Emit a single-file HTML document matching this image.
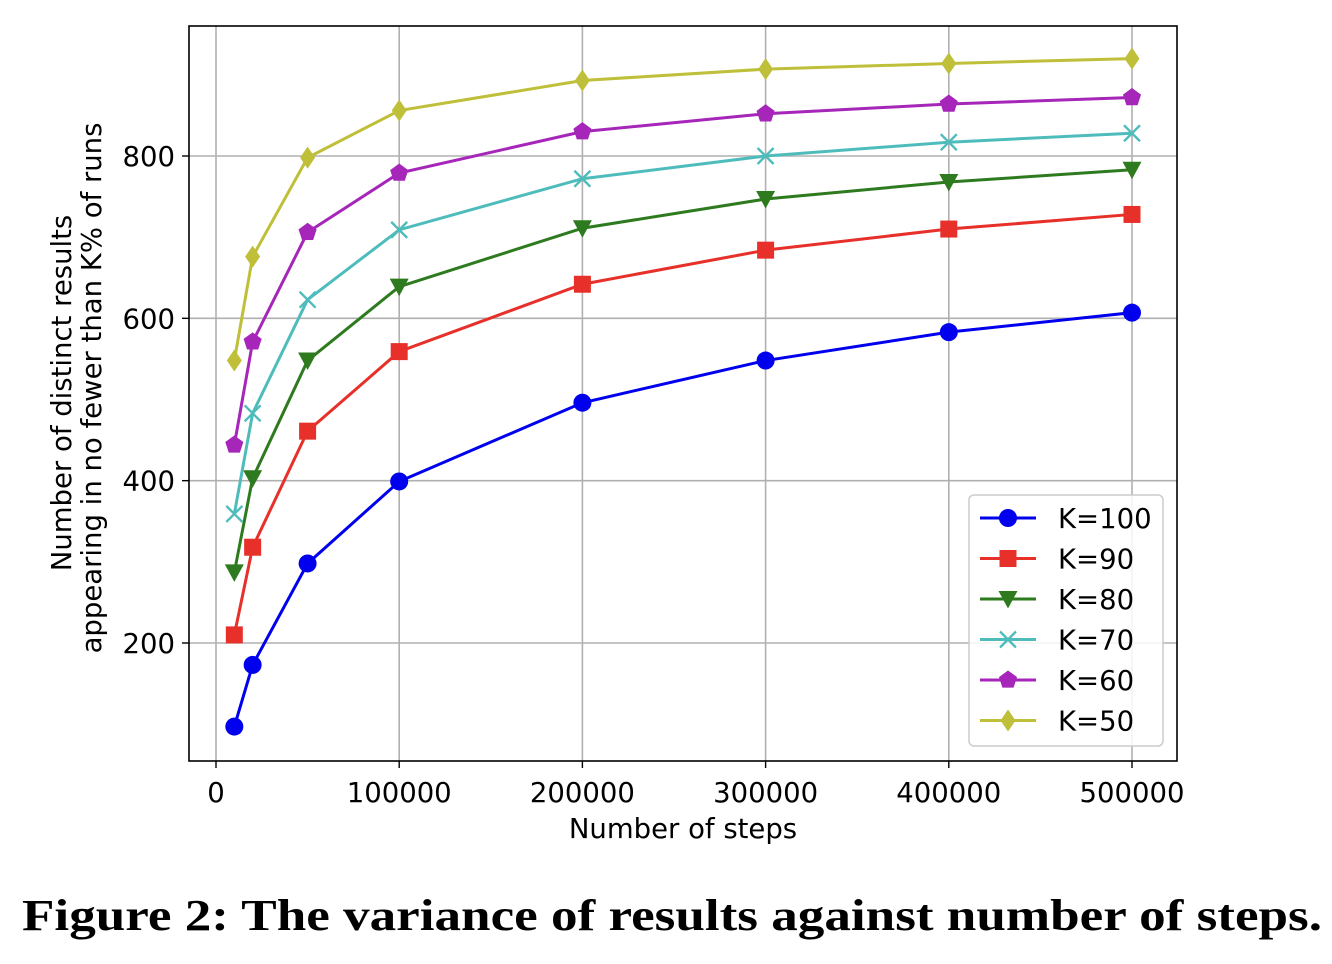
<!DOCTYPE html>
<html><head><meta charset="utf-8"><style>
body{margin:0;background:#fff;width:1332px;height:964px;overflow:hidden}
svg{display:block}
text{font-family:"DejaVu Sans","Liberation Sans",sans-serif;fill:#000}
</style></head><body>
<svg id="c" width="1332" height="964">
<text x="22" y="930" textLength="1300" lengthAdjust="spacingAndGlyphs" style="font-family:'Liberation Serif',serif;font-weight:bold;font-size:44px">Figure 2: The variance of results against number of steps.</text>
</svg>
<script>
const steps=[10000,20000,50000,100000,200000,300000,400000,500000];
const k100=[97,173,298,399,496,548,583,607];
const k90=[210,318,461,559,642,684,710,728];
const k80=[287,403,548,639,711,747,768,783];
const k70=[359,483,623,709,772,800,817,828];
const k60=[444,571,706,779,830,852,864,872];
const k50=[548,676,798,856,893,907,914,920];
const xTicks=[0,100000,200000,300000,400000,500000];
const yTicks=[200,400,600,800];
const labels=["K=100","K=90","K=80","K=70","K=60","K=50"];
const series=[k100,k90,k80,k70,k60,k50];
const colors=["#0000ee","#e8302a","#2e7a1e","#4fbcbc","#a526b8","#bfbf3a"];
const markers=["circle","square","tri","x","pent","diamond"];
const L=189,R=1177,T=26,B=761;
const FS=27.5;
const X=v=>216+v*(1132-216)/500000;
const Y=v=>643-(v-200)*(487/600);
const NS="http://www.w3.org/2000/svg",svg=document.getElementById('c');
function mk(t,a,p){const e=document.createElementNS(NS,t);for(const k in a)e.setAttribute(k,a[k]);(p||svg).appendChild(e);return e;}
xTicks.forEach(v=>{const l=mk('line',{x1:X(v),x2:X(v),y1:T,y2:B,stroke:'#b0b0b0','stroke-width':1.6});


mk('line',{x1:X(v),x2:X(v),y1:B,y2:B+7,stroke:'#000','stroke-width':1.4});
const t=mk('text',{x:X(v),y:B+41,'text-anchor':'middle','font-size':FS});t.textContent=v;

});
yTicks.forEach(v=>{const l=mk('line',{x1:L,x2:R,y1:Y(v),y2:Y(v),stroke:'#b0b0b0','stroke-width':1.6});


mk('line',{x1:L-7,x2:L,y1:Y(v),y2:Y(v),stroke:'#000','stroke-width':1.4});
const t=mk('text',{x:L-14,y:Y(v)+10,'text-anchor':'end','font-size':FS});t.textContent=v;

});
const fr=mk('rect',{x:L,y:T,width:R-L,height:B-T,fill:'none',stroke:'#000','stroke-width':1.6});


function marker(type,x,y,c,g){
 if(type=='circle')return mk('circle',{cx:x,cy:y,r:9,fill:c},g);
 if(type=='square')return mk('rect',{x:x-8.5,y:y-8.5,width:17,height:17,fill:c},g);
 if(type=='tri')return mk('polygon',{points:`${x-9.5},${y-8} ${x+9.5},${y-8} ${x},${y+9.5}`,fill:c},g);
 if(type=='x')return mk('path',{d:`M${x-8},${y-8}L${x+8},${y+8}M${x-8},${y+8}L${x+8},${y-8}`,stroke:c,'stroke-width':2.4},g);
 if(type=='pent'){let p=[];for(let i=0;i<5;i++){const a=-Math.PI/2+i*2*Math.PI/5;p.push((x+9.5*Math.cos(a))+','+(y+9.5*Math.sin(a)));}return mk('polygon',{points:p.join(' '),fill:c},g);}
 return mk('polygon',{points:`${x},${y-11} ${x+7.5},${y} ${x},${y+11} ${x-7.5},${y}`,fill:c},g);
}
series.forEach((s,i)=>{const g=mk('g',{});


mk('polyline',{points:s.map((v,j)=>X(steps[j])+','+Y(v)).join(' '),fill:'none',stroke:colors[i],'stroke-width':3},g);
s.forEach((v,j)=>{const m=marker(markers[i],X(steps[j]),Y(v),colors[i],g);

});});
const lg=mk('g',{});


mk('rect',{x:969,y:495,width:194,height:251,rx:5,fill:'#fff','fill-opacity':0.85,stroke:'#ccc','stroke-width':1.5},lg);
labels.forEach((lab,i)=>{const y=518+i*40.5;const e=mk('g',{},lg);


mk('line',{x1:980,x2:1036,y1:y,y2:y,stroke:colors[i],'stroke-width':3},e);
marker(markers[i],1008,y,colors[i],e);
const t=mk('text',{x:1058,y:y+10,'font-size':FS},e);t.textContent=lab;});
let t=mk('text',{x:683,y:838,'text-anchor':'middle','font-size':FS});t.textContent='Number of steps';


t=mk('text',{transform:'translate(71,393) rotate(-90)','text-anchor':'middle','font-size':FS});t.textContent='Number of distinct results';


t=mk('text',{transform:'translate(101,388) rotate(-90)','text-anchor':'middle','font-size':FS});t.textContent='appearing in no fewer than K% of runs';


</script>
</body></html>
